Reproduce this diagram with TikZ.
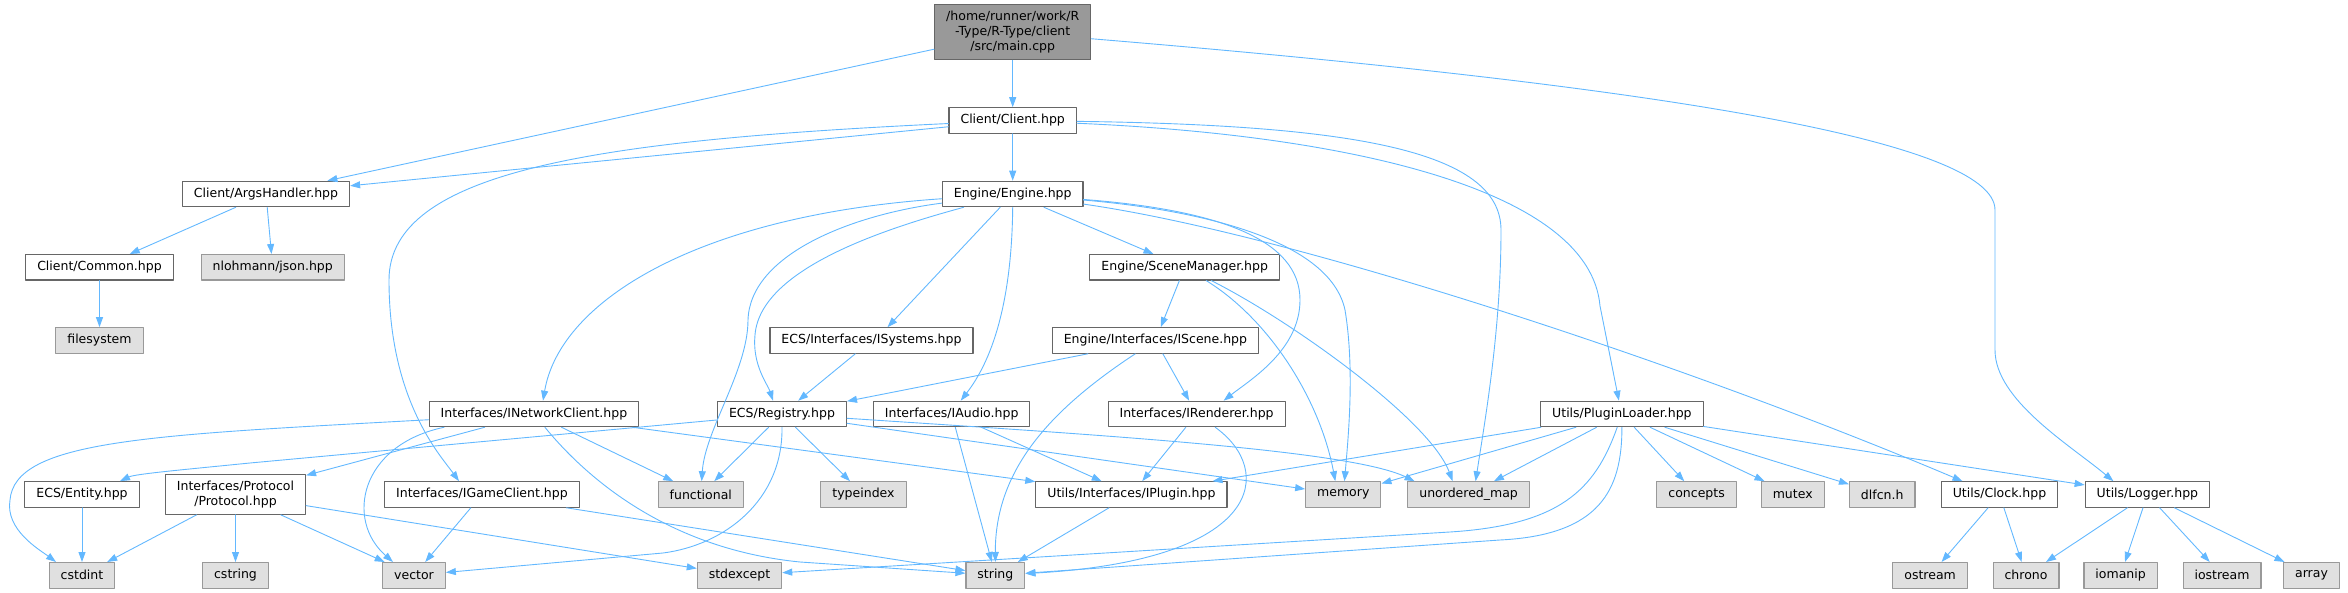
\documentclass[tikz,border=0pt]{standalone}
\usepackage{fontspec}
\setmainfont{DejaVu Sans}
\usepackage{tikz}
\usetikzlibrary{arrows.meta}
\definecolor{edgeblue}{HTML}{63B8FF}
\definecolor{boxline}{HTML}{666666}
\definecolor{sysline}{HTML}{999999}
\definecolor{sysfill}{HTML}{E0E0E0}
\definecolor{mainfill}{HTML}{999999}

\begin{document}
\begin{tikzpicture}[line cap=round,line join=round,>={Triangle[length=10pt,width=7pt]},x=1pt,y=-1pt,
  filebox/.style={rectangle,draw=boxline,fill=white,line width=1.1pt,inner xsep=11.5pt,inner ysep=0pt,
    minimum height=25.5pt,font=\fontsize{12.5}{15}\selectfont,align=center},
  sysbox/.style={filebox,draw=sysline,fill=sysfill},
  mainbox/.style={filebox,fill=mainfill,minimum height=55pt},
  dep/.style={->,draw=edgeblue,line width=0.9pt}]
\clip(0,0) rectangle (2348,593);
% row 0 to 3
\draw (1012.7,32.3) node[mainbox] (main) {/home/runner/work/R\\-Type/R-Type/client\\/src/main.cpp};
\draw (1012.7,120.5) node[filebox] (client) {Client/Client.hpp};
\draw (266,194) node[filebox] (args) {Client/ArgsHandler.hpp};
\draw (1012.7,194) node[filebox] (engine) {Engine/Engine.hpp};
\draw (99.5,267.3) node[filebox] (common) {Client/Common.hpp};
\draw (272.7,267.3) node[sysbox] (json) {nlohmann/json.hpp};
\draw (1184.7,267.3) node[filebox] (scene) {Engine/SceneManager.hpp};
% row 4 and 5
\draw (99.5,340.5) node[sysbox] (fsys) {filesystem};
\draw (871.5,340.5) node[filebox] (isys) {ECS/Interfaces/ISystems.hpp};
\draw (1155.4,340.5) node[filebox] (iscene) {Engine/Interfaces/IScene.hpp};
\draw (534,414) node[filebox] (inet) {Interfaces/INetworkClient.hpp};
\draw (782,414) node[filebox] (reg) {ECS/Registry.hpp};
\draw (951.7,414) node[filebox] (iaudio) {Interfaces/IAudio.hpp};
\draw (1196.6,414) node[filebox] (irend) {Interfaces/IRenderer.hpp};
\draw (1621.9,414) node[filebox] (ploader) {Utils/PluginLoader.hpp};
% row 6
\draw (82,494.5) node[filebox] (entity) {ECS/Entity.hpp};
\draw (235.5,494.3) node[filebox,minimum height=40pt] (proto) {Interfaces/Protocol\\/Protocol.hpp};
\draw (482,494.5) node[filebox] (igame) {Interfaces/IGameClient.hpp};
\draw (700.8,494.5) node[sysbox] (functional) {functional};
\draw (863.5,494.5) node[sysbox] (typeindex) {typeindex};
\draw (1131.4,494.5) node[filebox] (iplugin) {Utils/Interfaces/IPlugin.hpp};
\draw (1343.3,494.5) node[sysbox] (memory) {memory};
\draw (1468.6,494.5) node[sysbox] (umap) {unordered\_map};
\draw (1696.6,494.5) node[sysbox] (concepts) {concepts};
\draw (1792.7,494.5) node[sysbox] (mutex) {mutex};
\draw (1882.2,494.5) node[sysbox] (dlfcn) {dlfcn.h};
\draw (1999.5,494.5) node[filebox] (clock) {Utils/Clock.hpp};
\draw (2147.4,494.5) node[filebox] (logger) {Utils/Logger.hpp};
% row 7
\draw (82,575.3) node[sysbox] (cstdint) {cstdint};
\draw (235.5,575.3) node[sysbox] (cstring) {cstring};
\draw (414,575.3) node[sysbox] (vector) {vector};
\draw (739.5,575.3) node[sysbox] (stdexcept) {stdexcept};
\draw (995.4,575.3) node[sysbox] (string) {string};
\draw (1930.1,575.3) node[sysbox] (ostream) {ostream};
\draw (2026,575.3) node[sysbox] (chrono) {chrono};
\draw (2120.6,575.3) node[sysbox] (iomanip) {iomanip};
\draw (2222,575.3) node[sysbox] (iostream) {iostream};
\draw (2311.5,575.3) node[sysbox] (array) {array};
% includes of main.cpp and Client.hpp
\draw [dep] (main) -- (client);
\draw [dep] (main) -- (args);
\draw [dep] (main) .. controls (1650,85) and (1995,140) .. (1995,210) -- (1995,350) .. controls (1995,400) and (2070,445) .. ([xshift=-34pt]logger.north);
\draw [dep] (client) -- (args);
\draw [dep] (client) -- (engine);
\draw [dep] (client) .. controls (600,140) and (389,170) .. (389,280) .. controls (389,400) and (440,455) .. ([xshift=-23pt]igame.north);
\draw [dep] (client) .. controls (1350,125) and (1501,150) .. (1501,230) .. controls (1501,330) and (1485,420) .. ([xshift=7pt]umap.north);
\draw [dep] (client) .. controls (1350,135) and (1590,190) .. (1600,306) -- ([xshift=-3pt]ploader.north);
% includes of Engine.hpp
\draw [dep] (engine) .. controls (700,215) and (560,300) .. ([xshift=9pt]inet.north);
\draw [dep] (engine) .. controls (850,215) and (750,255) .. (748,320) .. controls (748,370) and (705,430) .. (functional);
\draw [dep] (engine) .. controls (880,230) and (760,270) .. (755,335) .. controls (752,365) and (768,385) .. ([xshift=-9pt]reg.north);
\draw [dep] (engine) -- ([xshift=16pt]isys.north);
\draw [dep] (engine.south) .. controls (1012,280) and (1000,350) .. ([xshift=9pt]iaudio.north);
\draw [dep] (engine) -- (scene);
\draw [dep] (engine) .. controls (1220,210) and (1300,240) .. (1300,300) .. controls (1300,350) and (1250,380) .. ([xshift=27pt]irend.north);
\draw [dep] (engine) .. controls (1200,210) and (1330,240) .. (1345,310) .. controls (1355,370) and (1348,440) .. (memory);
\draw [dep] (engine) .. controls (1300,235) and (1700,370) .. ([xshift=-37pt]clock.north);
\draw [dep] (args) -- (common);
\draw [dep] (args) -- (json);
\draw [dep] (common) -- (fsys);
\draw [dep] (scene) -- (iscene);
\draw [dep] (scene) .. controls (1270,320) and (1320,400) .. ([xshift=-8pt]memory.north);
\draw [dep] (scene) .. controls (1290,320) and (1430,420) .. ([xshift=-16pt]umap.north);
\draw [dep] (isys) -- (reg);
\draw [dep] (iscene) -- (reg);
\draw [dep] (iscene) -- (irend);
\draw [dep] (iscene) .. controls (1050,410) and (995,470) .. (string);
% includes of INetworkClient.hpp and Registry.hpp
\draw [dep] (inet) .. controls (150,435) and (15,440) .. (10,500) .. controls (5,530) and (40,550) .. ([xshift=-26pt]cstdint.north);
\draw [dep] ([xshift=-90pt]inet.south) .. controls (360,445) and (345,520) .. ([xshift=-21pt]vector.north);
\draw [dep] (inet) -- (proto);
\draw [dep] (inet) -- (functional);
\draw [dep] (inet) -- (iplugin);
\draw [dep] (inet) .. controls (580,470) and (660,548) .. (800,562) -- (string);
\draw [dep] (reg) -- (250,463) .. controls (180,470) and (135,474) .. ([xshift=38pt]entity.north);
\draw [dep] (reg) -- (functional);
\draw [dep] (reg) -- (typeindex);
\draw [dep] (reg.south) .. controls (783,500) and (725,545) .. (663,553) -- (vector);
\draw [dep] (reg) -- (memory);
\draw [dep] (reg) .. controls (1100,435) and (1350,450) .. ([xshift=-54pt]umap.north);
\draw [dep] (iaudio) -- (iplugin);
\draw [dep] (iaudio) -- (string);
\draw [dep] (irend) -- (iplugin);
\draw [dep] (irend) .. controls (1275,470) and (1265,560) .. (string);
\draw [dep] (iplugin) -- (string);
% includes of PluginLoader.hpp
\draw [dep] (ploader) -- (iplugin);
\draw [dep] (ploader) -- (memory);
\draw [dep] (ploader) -- (umap);
\draw [dep] (ploader) .. controls (1595,490) and (1560,525) .. (1450,532) -- (stdexcept);
\draw [dep] (ploader) .. controls (1622,490) and (1600,535) .. (1500,540) -- (string);
\draw [dep] (ploader) -- (concepts);
\draw [dep] (ploader) -- (mutex);
\draw [dep] (ploader) -- (dlfcn);
\draw [dep] (ploader) -- (logger);
% bottom rows
\draw [dep] (clock) -- (ostream);
\draw [dep] (clock) -- (chrono);
\draw [dep] (logger) -- (chrono);
\draw [dep] (logger) -- (iomanip);
\draw [dep] (logger) -- (iostream);
\draw [dep] (logger) -- (array);
\draw [dep] (igame) -- (vector);
\draw [dep] (igame) -- (string);
\draw [dep] (proto) -- (cstdint);
\draw [dep] (proto) -- (cstring);
\draw [dep] (proto) -- (vector);
\draw [dep] (proto) -- (stdexcept);
\draw [dep] (entity) -- (cstdint);
\end{tikzpicture}
\end{document}
